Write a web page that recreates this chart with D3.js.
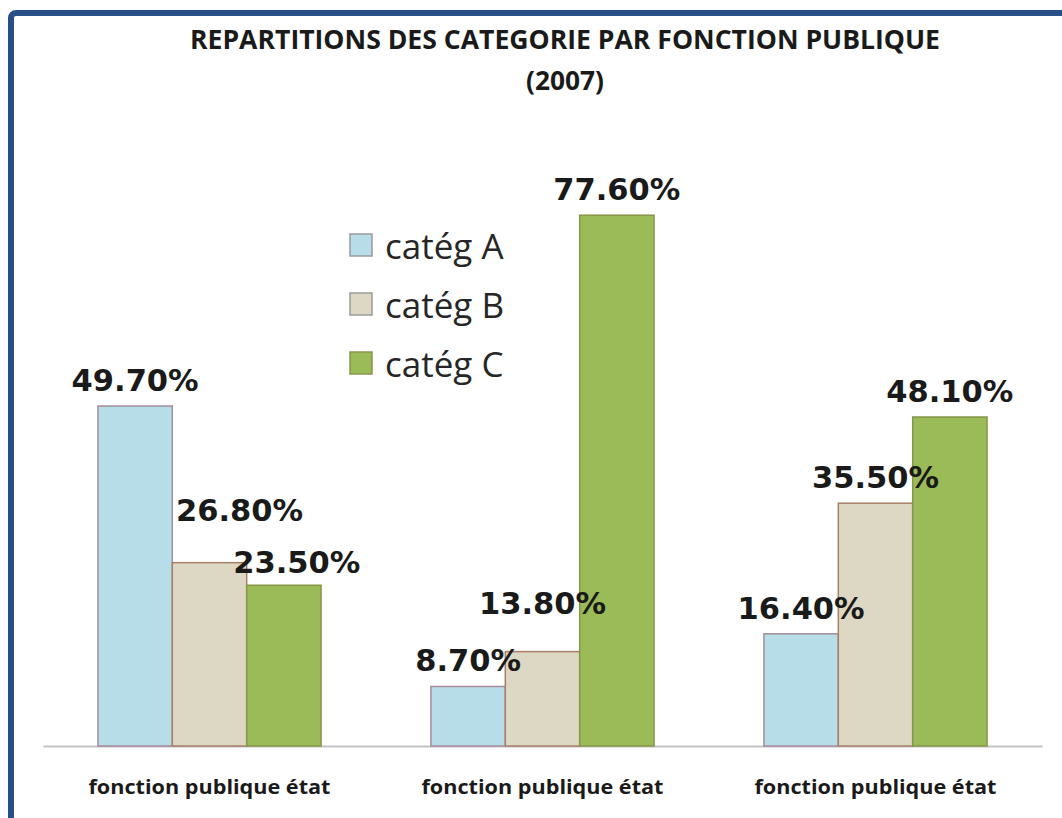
<!DOCTYPE html>
<html>
<head>
<meta charset="utf-8">
<script src="https://cdn.jsdelivr.net/npm/d3@7"></script>
<style>
  html, body { margin: 0; padding: 0; background: #fff; }
  svg { display: block; }
</style>
</head>
<body>
<script>
// data
var categories = ['fonction publique état', 'fonction publique état', 'fonction publique état'];
var seriesNames = ['catég A', 'catég B', 'catég C'];
var valuesA = [49.7, 8.7, 16.4];
var valuesB = [26.8, 13.8, 35.5];
var valuesC = [23.5, 77.6, 48.1];
var titleLines = ['REPARTITIONS DES CATEGORIE PAR FONCTION PUBLIQUE', '(2007)'];

var fills = ['#b7dde8', '#ddd8c4', '#9bbb59'];
var strokes = ['#a38c9c', '#a87f68', '#86964a'];

// labels that were dragged by hand in the original
var labelNudge = { '0-1': [30, -27], '0-2': [13, 3], '1-1': [0, -23] };

var W = 1062, H = 818;
var svg = d3.select('body').append('svg').attr('width', W).attr('height', H);

// frame (right and bottom edges fall outside the picture)
svg.append('rect')
  .attr('x', 11).attr('y', 13)
  .attr('width', 1120).attr('height', 900)
  .attr('rx', 5)
  .attr('fill', '#fff')
  .attr('stroke', '#285086')
  .attr('stroke-width', 6);

svg.append('text')
  .attr('text-anchor', 'middle')
  .attr('font-family', 'Open Sans')
  .attr('font-weight', 'bold')
  .attr('font-size', 26)
  .attr('fill', '#1a1a1a')
  .selectAll('tspan')
  .data(titleLines)
  .enter().append('tspan')
    .attr('x', 565)
    .attr('y', function(d, i) { return 49 + i * 41; })
    .attr('textLength', function(d, i) { return i == 0 ? 750 : 78; })
    .attr('lengthAdjust', 'spacingAndGlyphs')
    .text(function(d) { return d; });

var x0 = d3.scaleBand()
  .domain(d3.range(categories.length))
  .range([43, 1042])
  .paddingInner(0.33)
  .paddingOuter(0.165);

var x1 = d3.scaleBand()
  .domain(d3.range(seriesNames.length))
  .range([0, x0.bandwidth()]);

var y = d3.scaleLinear().domain([0, 100]).range([746, 62]);

var series = [valuesA, valuesB, valuesC];

// axis
var axis = svg.append('g')
  .attr('transform', 'translate(0,746)')
  .call(d3.axisBottom(x0).tickSize(0).tickPadding(34).tickFormat(function(i) { return categories[i]; }));
axis.select('.domain').attr('stroke', '#c4c4c4').attr('stroke-width', 2);
axis.selectAll('text')
  .attr('font-family', 'Open Sans')
  .attr('font-weight', 'bold')
  .attr('font-size', 20)
  .attr('fill', '#1a1a1a')
  .attr('textLength', 242)
  .attr('lengthAdjust', 'spacingAndGlyphs');

var groups = svg.selectAll('g.grp')
  .data(categories)
  .enter().append('g')
    .attr('class', 'grp')
    .attr('transform', function(d, i) { return 'translate(' + x0(i) + ',0)'; });

groups.selectAll('rect')
  .data(function(d, i) { return series.map(function(s, k) { return { g: i, k: k, v: s[i] }; }); })
  .enter().append('rect')
    .attr('x', function(d) { return x1(d.k); })
    .attr('y', function(d) { return y(d.v); })
    .attr('width', x1.bandwidth())
    .attr('height', function(d) { return y(0) - y(d.v); })
    .attr('fill', function(d) { return fills[d.k]; })
    .attr('stroke', function(d) { return strokes[d.k]; })
    .attr('stroke-width', 1.5);

groups.selectAll('text.val')
  .data(function(d, i) { return series.map(function(s, k) { return { g: i, k: k, v: s[i] }; }); })
  .enter().append('text')
    .attr('class', 'val')
    .attr('text-anchor', 'middle')
    .attr('font-family', 'DejaVu Sans')
    .attr('font-weight', 'bold')
    .attr('font-size', 30.5)
    .attr('fill', '#1a1a1a')
    .attr('x', function(d) {
      var n = labelNudge[d.g + '-' + d.k];
      return x1(d.k) + x1.bandwidth() / 2 + (n ? n[0] : 0);
    })
    .attr('y', function(d) {
      var n = labelNudge[d.g + '-' + d.k];
      return y(d.v) - 15 + (n ? n[1] : 0);
    })
    .text(function(d) { return d.v.toFixed(2) + '%'; });

// legend
var legend = svg.append('g').selectAll('g')
  .data(seriesNames)
  .enter().append('g')
    .attr('transform', function(d, i) { return 'translate(350,' + (234 + i * 59) + ')'; });

legend.append('rect')
  .attr('width', 22).attr('height', 22)
  .attr('fill', function(d, i) { return fills[i]; })
  .attr('stroke', function(d, i) { return i == 2 ? '#86964a' : '#9a9a9a'; })
  .attr('stroke-width', 1.5);

legend.append('text')
  .attr('x', 35)
  .attr('y', 25)
  .attr('font-family', 'Open Sans')
  .attr('font-size', 35)
  .attr('fill', '#262626')
  .text(function(d) { return d; });
</script>
</body>
</html>
